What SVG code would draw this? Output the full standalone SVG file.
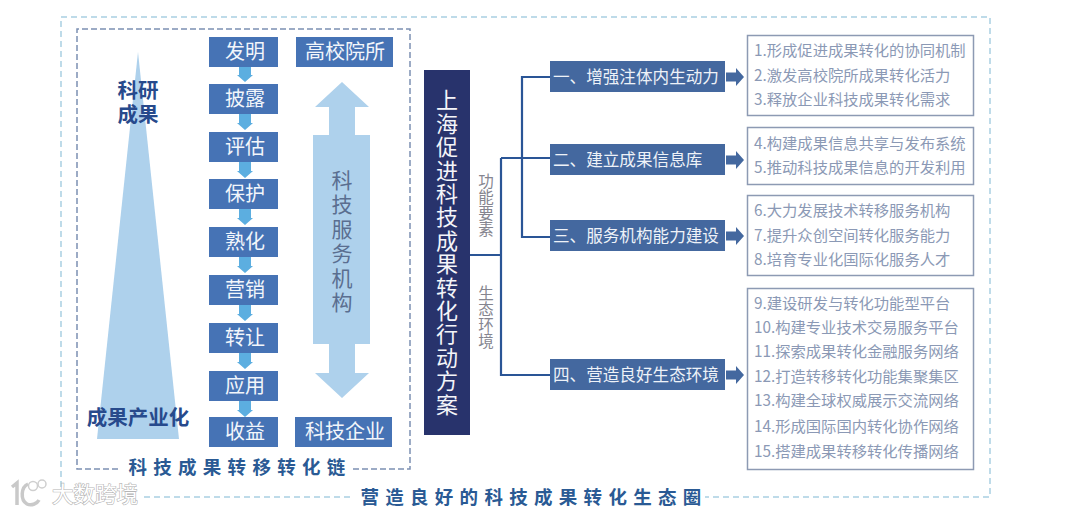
<svg xmlns="http://www.w3.org/2000/svg" width="1080" height="514" viewBox="0 0 1080 514">
<style>
text{font-family:"Noto Sans CJK SC","Liberation Sans",sans-serif}
.outer{fill:none;stroke:#a9d0e2;stroke-width:1.5;stroke-dasharray:6 4}
.inner{fill:none;stroke:#7c90b3;stroke-width:1.5;stroke-dasharray:6 3}
.chain{fill:#4673b5}
.chain-t{fill:#f2f6fb;font-size:20px;text-anchor:middle}
.pale{fill:#aed1ec}
.dark-t{fill:#274a8c;font-size:20.500px;font-weight:700;text-anchor:middle}
.down{fill:#5caee0}
.sec{fill:#44689f}
.sec-t{fill:#eef2f8;font-size:16.600px}
.go{fill:#44689f}
.list{fill:#fff;stroke:#8d9ab3;stroke-width:1.5}
.list-t{fill:#8b99b5;font-size:15.300px}
.link{fill:none;stroke:#2a5596;stroke-width:2.2}
.vert{writing-mode:vertical-rl}
.side{fill:#85858f;font-size:15.500px;letter-spacing:.5px}
.band{fill:#2a5a94;font-size:18.500px;font-weight:700;text-anchor:middle}
</style>
<defs>
<path id="dn" class="down" d="M239 0H251V9H253L245 16L237 9H239Z"/>
<path id="rt" class="go" d="M0 -4.500H10V-9L18 0L10 9V4.500H0Z"/>
</defs>

<g id="frames">
<path class="outer" d="M350 497H140M61 487V17H990V497H705"/>
<path class="inner" d="M118 469H77V29H410V469H353"/>
</g>

<g id="pyramid">
<polygon class="pale" points="138,52 179,439 97,439"/>
<text class="dark-t"><tspan x="138" y="98">科研</tspan><tspan x="138" y="122">成果</tspan></text>
<text class="dark-t" x="138" y="425">成果产业化</text>
</g>

<g id="chain-arrows">
<use href="#dn" y="66"/><use href="#dn" y="114"/><use href="#dn" y="162"/><use href="#dn" y="209"/><use href="#dn" y="257"/><use href="#dn" y="305"/><use href="#dn" y="353"/><use href="#dn" y="401"/>
</g>
<g id="n-faming"><rect class="chain" x="209" y="37" width="69" height="30"/><text class="chain-t" x="245" y="59">发明</text></g>
<g id="n-pilu"><rect class="chain" x="209" y="84" width="69" height="30"/><text class="chain-t" x="245" y="106">披露</text></g>
<g id="n-pinggu"><rect class="chain" x="209" y="132" width="69" height="30"/><text class="chain-t" x="245" y="154">评估</text></g>
<g id="n-baohu"><rect class="chain" x="209" y="179" width="69" height="30"/><text class="chain-t" x="245" y="201">保护</text></g>
<g id="n-shuhua"><rect class="chain" x="209" y="227" width="69" height="30"/><text class="chain-t" x="245" y="249">熟化</text></g>
<g id="n-yingxiao"><rect class="chain" x="209" y="275" width="69" height="30"/><text class="chain-t" x="245" y="297">营销</text></g>
<g id="n-zhuanrang"><rect class="chain" x="209" y="323" width="69" height="30"/><text class="chain-t" x="245" y="345">转让</text></g>
<g id="n-yingyong"><rect class="chain" x="209" y="371" width="69" height="30"/><text class="chain-t" x="245" y="393">应用</text></g>
<g id="n-shouyi"><rect class="chain" x="209" y="417" width="69" height="30"/><text class="chain-t" x="245" y="439">收益</text></g>
<g id="n-gaoxiao"><rect class="chain" x="296" y="37" width="97" height="30"/><text class="chain-t" x="345" y="59">高校院所</text></g>
<g id="n-qiye"><rect class="chain" x="295" y="417" width="97" height="30"/><text class="chain-t" x="345" y="439">科技企业</text></g>

<g id="n-service">
<polygon class="pale" points="342,82 369,107 355,107 355,135 370,135 370,344 355,344 355,373 369,373 342,398 315,373 329,373 329,344 313,344 313,135 329,135 329,107 315,107"/>
<text class="vert" x="342" y="169.500" font-size="21" fill="#5a6e90" letter-spacing="3.400">科技服务机构</text>
</g>

<g id="connectors">
<path class="link" d="M470 255H501M501 158V375H550M501 158H550M550 77H522V237H550"/>
<use href="#rt" x="726" y="77"/><use href="#rt" x="726" y="160"/><use href="#rt" x="726" y="236"/><use href="#rt" x="726" y="375"/>
</g>

<g id="n-title">
<rect x="424" y="70" width="46" height="365" fill="#28336c"/>
<text class="vert" x="447" y="89" fill="#f4f5f9" font-size="22" letter-spacing="1.400">上海促进科技成果转化行动方案</text>
</g>

<g id="side-labels">
<text class="side vert" x="486" y="173">功能要素</text>
<text class="side vert" x="486" y="285">生态环境</text>
</g>

<g id="n-sec1"><rect class="sec" x="550" y="61" width="175" height="31"/><text class="sec-t" x="553" y="82.500">一、增强注体内生动力</text></g>
<g id="n-sec2"><rect class="sec" x="550" y="144" width="175" height="31"/><text class="sec-t" x="553" y="165.500">二、建立成果信息库</text></g>
<g id="n-sec3"><rect class="sec" x="550" y="220" width="175" height="31"/><text class="sec-t" x="553" y="241.500">三、服务机构能力建设</text></g>
<g id="n-sec4"><rect class="sec" x="550" y="359" width="175" height="31"/><text class="sec-t" x="553" y="380.500">四、营造良好生态环境</text></g>

<g id="n-list1"><rect class="list" x="747.500" y="35.500" width="226" height="80"/>
<text class="list-t" x="754" y="56">1.形成促进成果转化的协同机制</text><text class="list-t" x="754" y="81">2.激发高校院所成果转化活力</text><text class="list-t" x="754" y="105">3.释放企业科技成果转化需求</text></g>
<g id="n-list2"><rect class="list" x="747.500" y="127.500" width="226" height="57"/>
<text class="list-t" x="754" y="149">4.构建成果信息共享与发布系统</text><text class="list-t" x="754" y="173">5.推动科技成果信息的开发利用</text></g>
<g id="n-list3"><rect class="list" x="747.500" y="195.500" width="226" height="80"/>
<text class="list-t" x="754" y="216">6.大力发展技术转移服务机构</text><text class="list-t" x="754" y="241">7.提升众创空间转化服务能力</text><text class="list-t" x="754" y="265">8.培育专业化国际化服务人才</text></g>
<g id="n-list4"><rect class="list" x="747.500" y="288.500" width="226" height="181"/>
<text class="list-t" x="754" y="309">9.建设研发与转化功能型平台</text><text class="list-t" x="754" y="333">10.构建专业技术交易服务平台</text><text class="list-t" x="754" y="357">11.探索成果转化金融服务网络</text><text class="list-t" x="754" y="382">12.打造转移转化功能集聚集区</text><text class="list-t" x="754" y="406">13.构建全球权威展示交流网络</text><text class="list-t" x="754" y="432">14.形成国际国内转化协作网络</text><text class="list-t" x="754" y="457">15.搭建成果转移转化传播网络</text></g>

<g id="band-labels">
<text class="band" x="240" y="474" letter-spacing="6.300">科技成果转移转化链</text>
<text class="band" x="534" y="504" letter-spacing="6.300">营造良好的科技成果转化生态圈</text>
</g>

<g id="watermark">
<path d="M12 487L17 483V505M28 484C21 487 20 500 27 504C31 506 37 504 39 500" fill="none" stroke="#c9c9c9" stroke-width="3.500"/>
<circle cx="33" cy="486" r="4.500" fill="#fff" stroke="#cfcfcf" stroke-width="1.500"/>
<circle cx="42" cy="484" r="4" fill="#fff" stroke="#cfcfcf" stroke-width="1.500"/>
<text x="52" y="502" font-size="21.500" fill="#fff" stroke="#b5b5b5" stroke-width="1.200" paint-order="stroke">大数跨境</text>
</g>
</svg>
